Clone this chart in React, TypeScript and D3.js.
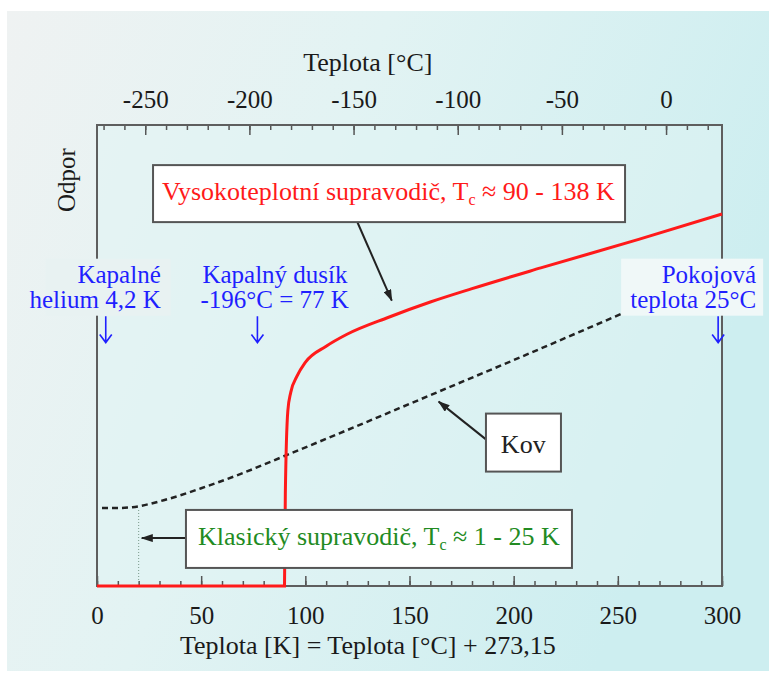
import * as d3 from "d3";
import { useEffect, useRef } from "react";

// high-temperature superconductor curve (temperature K, relative resistance)
const htsTemp = [0, 90, 90.4, 91.6, 93, 96, 100, 110, 120, 140, 160, 180, 213, 260, 300];
const htsRes = [0, 0, 0.2, 0.38, 0.42, 0.455, 0.485, 0.52, 0.546, 0.583, 0.616, 0.645, 0.69, 0.752, 0.807];

// ordinary metal (dashed)
const metalTemp = [2.4, 10, 17, 32, 50, 70, 90, 120, 160, 200, 252];
const metalRes = [0.169, 0.169, 0.171, 0.186, 0.212, 0.245, 0.282, 0.338, 0.414, 0.49, 0.591];

// axis ticks
const kelvinLabels = [0, 50, 100, 150, 200, 250, 300];
const celsiusLabels = [-250, -200, -150, -100, -50, 0];

// reference temperatures marked with arrows
const heliumK = 4.2;
const nitrogenK = 77;
const roomK = 298.15;
const classicTcK = 20;

const SERIF = "'Liberation Serif', 'Times New Roman', serif";

export default function App() {
    const refSvg = useRef<SVGSVGElement>(null);

    useEffect(() => {
        const svg = d3.select(refSvg.current);
        svg.selectAll("*").remove();

        const W = 769, H = 679;
        const margin = { top: 125, left: 97, bottom: 93, right: 47 };
        const width = W - margin.left - margin.right;
        const height = H - margin.top - margin.bottom;

        // ------------- background ---------------
        const defs = svg.append("defs");
        const grad = defs.append("linearGradient").attr("id", "bgGrad")
            .attr("x1", 0).attr("y1", 0).attr("x2", 1).attr("y2", 0.35);
        grad.append("stop").attr("offset", "0%").attr("stop-color", "#eff2f2");
        grad.append("stop").attr("offset", "45%").attr("stop-color", "#e2f3f3");
        grad.append("stop").attr("offset", "100%").attr("stop-color", "#cdeef0");

        defs.append("marker").attr("id", "arrowHead")
            .attr("viewBox", "0 0 12 8").attr("refX", 11).attr("refY", 4)
            .attr("markerWidth", 12).attr("markerHeight", 8)
            .attr("markerUnits", "userSpaceOnUse").attr("orient", "auto")
            .append("path").attr("d", "M0,0 L12,4 L0,8 Z").attr("fill", "#222");

        svg.append("rect").attr("width", W).attr("height", H).attr("fill", "#ffffff");
        svg.append("rect").attr("x", 7).attr("y", 11).attr("width", W - 7).attr("height", H - 19)
            .attr("fill", "url(#bgGrad)");

        const g = svg.append("g").attr("transform", `translate(${margin.left},${margin.top})`);

        g.append("rect").attr("width", width).attr("height", height).attr("fill", "#dff3f4").attr("opacity", 0.5);

        // ------------- scales ---------------
        const X = d3.scaleLinear().domain([0, 300]).range([0, width]);
        const Y = d3.scaleLinear().domain([0, 1]).range([height, 0]);

        // ------------- axes ---------------
        const minorK = d3.range(0, 301, 10);
        const minorC = d3.range(-270, 21, 10);

        const styleAxis = (sel: any) => {
            sel.select(".domain").remove();
            sel.selectAll("line").attr("stroke", "#555").attr("stroke-width", 1.5);
            sel.selectAll("text").attr("font-family", SERIF).attr("font-size", 25).attr("fill", "#1a1a1a");
        };

        g.append("g").attr("transform", `translate(0,${height})`)
            .call(d3.axisBottom(X).tickValues(minorK).tickSize(-5).tickFormat(() => ""))
            .call(styleAxis);
        g.append("g").attr("transform", `translate(0,${height})`)
            .call(d3.axisBottom(X).tickValues(kelvinLabels).tickSize(-10).tickPadding(20).tickFormat((d: any) => String(d)))
            .call(styleAxis);

        const XCscale = d3.scaleLinear().domain([-273.15, 26.85]).range([0, width]);
        g.append("g")
            .call(d3.axisTop(XCscale).tickValues(minorC).tickSize(-5).tickFormat(() => ""))
            .call(styleAxis);
        g.append("g")
            .call(d3.axisTop(XCscale).tickValues(celsiusLabels).tickSize(-10).tickPadding(17).tickFormat((d: any) => String(d)))
            .call(styleAxis);

        g.append("rect").attr("width", width).attr("height", height)
            .attr("fill", "none").attr("stroke", "#5e5e5e").attr("stroke-width", 2);

        // ------------- classic superconductor marker ---------------
        g.append("line")
            .attr("x1", X(classicTcK)).attr("x2", X(classicTcK))
            .attr("y1", Y(0)).attr("y2", Y(metalRes[0]))
            .attr("stroke", "#7a9a8a").attr("stroke-width", 1).attr("stroke-dasharray", "1,2");

        // ------------- curves ---------------
        const line = d3.line<number>()
            .x((d, i) => X(d))
            .curve(d3.curveMonotoneX);

        g.append("path")
            .attr("d", line.y((d, i) => Y(metalRes[i]))(metalTemp))
            .attr("fill", "none").attr("stroke", "#222").attr("stroke-width", 2.5)
            .attr("stroke-dasharray", "6,4");

        g.append("path")
            .attr("d", line.y((d, i) => Y(htsRes[i]))(htsTemp))
            .attr("fill", "none").attr("stroke", "#ff1a1a").attr("stroke-width", 3);

        // ------------- labels with arrows ---------------
        const blue = "#1f1fff";
        const addDown = (t: number) => {
            const x = X(t);
            const y0 = Y(0.585), y1 = Y(0.528);
            g.append("path")
                .attr("d", `M${x},${y0} L${x},${y1} M${x - 6},${y1 - 8} L${x},${y1} L${x + 6},${y1 - 8}`)
                .attr("fill", "none").attr("stroke", blue).attr("stroke-width", 1.6);
        };

        // helium label
        g.append("rect").attr("x", X(heliumK) - 60).attr("y", Y(0.71)).attr("width", 125).attr("height", 57)
            .attr("fill", "#e8f2f2");
        const he = g.append("text").attr("font-family", SERIF).attr("font-size", 25).attr("fill", blue)
            .attr("text-anchor", "end");
        he.append("tspan").attr("x", X(heliumK) + 55).attr("y", Y(0.658)).text("Kapalné");
        he.append("tspan").attr("x", X(heliumK) + 55).attr("y", Y(0.602)).text("helium 4,2 K");
        addDown(heliumK);

        // nitrogen label
        const n2 = g.append("text").attr("font-family", SERIF).attr("font-size", 25).attr("fill", blue);
        n2.append("tspan").attr("x", X(nitrogenK) - 55).attr("y", Y(0.658)).text("Kapalný dusík");
        n2.append("tspan").attr("x", X(nitrogenK) - 57).attr("y", Y(0.602)).text("-196°C = 77 K");
        addDown(nitrogenK);

        // room temperature label
        g.append("rect").attr("x", X(roomK) - 97).attr("y", Y(0.71)).attr("width", 142).attr("height", 57)
            .attr("fill", "#f0f8f8");
        const rt = g.append("text").attr("font-family", SERIF).attr("font-size", 25).attr("fill", blue)
            .attr("text-anchor", "end");
        rt.append("tspan").attr("x", X(roomK) + 38).attr("y", Y(0.658)).text("Pokojová");
        rt.append("tspan").attr("x", X(roomK) + 38).attr("y", Y(0.602)).text("teplota 25°C");
        addDown(roomK);

        // boxed annotation helper
        const box = (bx: number, by: number, bw: number, bh: number) =>
            g.append("rect").attr("x", bx).attr("y", by).attr("width", bw).attr("height", bh)
                .attr("fill", "#ffffff").attr("stroke", "#555").attr("stroke-width", 2);
        const arrow = (x1: number, y1: number, x2: number, y2: number) =>
            g.append("line").attr("x1", x1).attr("y1", y1).attr("x2", x2).attr("y2", y2)
                .attr("stroke", "#222").attr("stroke-width", 2).attr("marker-end", "url(#arrowHead)");

        // high temperature superconductor
        arrow(X(125), Y(0.789), X(141.5), Y(0.619));
        box(X(26.9), Y(0.913), 472, 57);
        const ht = g.append("text").attr("font-family", SERIF).attr("font-size", 26).attr("fill", "#ff1a1a")
            .attr("x", X(31.2)).attr("y", Y(0.837));
        ht.append("tspan").text("Vysokoteplotní supravodič, T");
        ht.append("tspan").attr("font-size", 16).attr("dy", 5).text("c");
        ht.append("tspan").attr("dy", -5).text(" ≈ 90 - 138 K");

        // metal
        arrow(X(186.7), Y(0.318), X(164), Y(0.4));
        box(X(186.7), Y(0.374), 75, 58);
        g.append("text").attr("font-family", SERIF).attr("font-size", 26).attr("fill", "#222")
            .attr("text-anchor", "middle").attr("x", X(204.6)).attr("y", Y(0.288)).text("Kov");

        // classic superconductor
        arrow(X(42.7), Y(0.104), X(21.5), Y(0.104));
        box(X(42.7), Y(0.165), 386, 58);
        const cs = g.append("text").attr("font-family", SERIF).attr("font-size", 26).attr("fill", "#228b22")
            .attr("x", X(48.5)).attr("y", Y(0.088));
        cs.append("tspan").text("Klasický supravodič, T");
        cs.append("tspan").attr("font-size", 16).attr("dy", 5).text("c");
        cs.append("tspan").attr("dy", -5).text(" ≈ 1 - 25 K");

        // ------------- axis titles ---------------
        svg.append("text").attr("font-family", SERIF).attr("font-size", 26).attr("fill", "#1a1a1a")
            .attr("text-anchor", "middle").attr("x", margin.left + X(130)).attr("y", 71).text("Teplota [°C]");
        svg.append("text").attr("font-family", SERIF).attr("font-size", 26).attr("fill", "#1a1a1a")
            .attr("text-anchor", "middle").attr("x", margin.left + X(130)).attr("y", 654)
            .text("Teplota [K] = Teplota [°C] + 273,15");
        svg.append("text").attr("font-family", SERIF).attr("font-size", 25).attr("fill", "#1a1a1a")
            .attr("text-anchor", "middle").attr("transform", "translate(75,180) rotate(-90)").text("Odpor");
    }, []);

    return (
        <div style={{ position: "absolute", left: 0, top: 0 }}>
            <svg ref={refSvg} width={769} height={679} style={{ display: "block" }}></svg>
        </div>
    );
}
